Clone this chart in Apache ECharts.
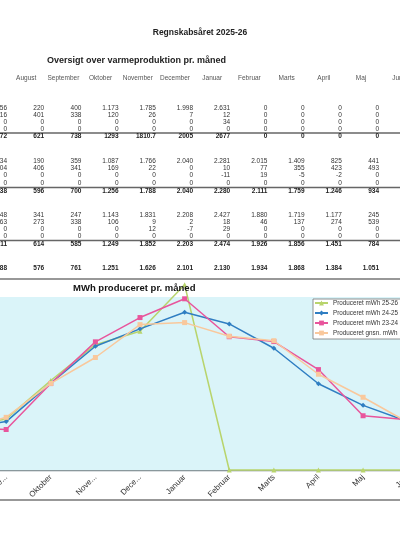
<!DOCTYPE html>
<html>
<head>
<meta charset="utf-8">
<script src="https://cdn.jsdelivr.net/npm/echarts@6/dist/echarts.min.js"></script>
<style>
html,body{margin:0;padding:0;background:#fff;overflow:hidden;width:400px;height:550px;}
#c{position:absolute;left:-61px;top:0;width:491px;height:550px;}
</style>
</head>
<body>
<div id="c"></div>
<script>
// ---- chart data ----
const categories = ['August','September','Oktober','November','December','Januar','Februar','Marts','April','Maj','Juni'];
const tickLabels = ['August','Septe...','Oktober','Nove...','Dece...','Januar','Februar','Marts','April','Maj','Juni'];
const prod2526 = [621, 738, 1293, 1810.7, 2005, 2677, 0, 0, 0, 0, 0];
const prod2425 = [596, 700, 1256, 1788, 2040, 2280, 2111, 1759, 1246, 934, 700];
const prod2324 = [614, 585, 1249, 1852, 2203, 2474, 1926, 1856, 1451, 784, 725];
const prodAvg  = [576, 761, 1251, 1626, 2101, 2130, 1934, 1868, 1384, 1051, 690];
const seriesNames = ['Produceret mWh 25-26','Produceret mWh 24-25','Produceret mWh 23-24','Produceret gnsn. mWh'];

// ---- table data (text as printed) ----
const tableMonths = ['Juli','August','September','Oktober','November','December','Januar','Februar','Marts','April','Maj','Juni'];
const rows2526 = [
  ['56','220','400','1.173','1.785','1.998','2.631','0','0','0','0',''],
  ['16','401','338','120','26','7','12','0','0','0','0',''],
  ['0','0','0','0','0','0','34','0','0','0','0',''],
  ['0','0','0','0','0','0','0','0','0','0','0','']
];
const total2526 = ['72','621','738','1293','1810.7','2005','2677','0','0','0','0',''];
const rows2425 = [
  ['34','190','359','1.087','1.766','2.040','2.281','2.015','1.409','825','441',''],
  ['04','406','341','169','22','0','10','77','355','423','493',''],
  ['0','0','0','0','0','0','-11','19','-5','-2','0',''],
  ['0','0','0','0','0','0','0','0','0','0','0','']
];
const total2425 = ['38','596','700','1.256','1.788','2.040','2.280','2.111','1.759','1.246','934',''];
const rows2324 = [
  ['48','341','247','1.143','1.831','2.208','2.427','1.880','1.719','1.177','245',''],
  ['63','273','338','106','9','2','18','46','137','274','539',''],
  ['0','0','0','0','12','-7','29','0','0','0','0',''],
  ['0','0','0','0','0','0','0','0','0','0','0','']
];
const total2324 = ['11','614','585','1.249','1.852','2.203','2.474','1.926','1.856','1.451','784',''];
const avgRow = ['88','576','761','1.251','1.626','2.101','2.130','1.934','1.868','1.384','1.051',''];

// ---- layout ----
const OX = 61; // container is shifted left by this many px
const FONT = '"Liberation Sans", Arial, sans-serif';
const colRight = i => OX + 7 + 37.2 * i;
const graphics = [];
function txt(s, x, y, size, weight, color, align) {
  graphics.push({type:'text', x:x, y:y, silent:true, z:10,
    style:{text:s, fontSize:size, fontWeight:weight, fontFamily:FONT, fill:color,
      textAlign:align, align:align, textVerticalAlign:'middle', verticalAlign:'middle'}});
}
function hline(y, w, color) {
  graphics.push({type:'line', silent:true, z:5, shape:{x1:OX - 5, y1:y, x2:OX + 405, y2:y},
    style:{stroke:color, lineWidth:w}});
}
txt('Regnskabsåret 2025-26', OX + 200, 33, 8.5, 'bold', '#222', 'center');
txt('Oversigt over varmeproduktion pr. måned', OX + 47, 61, 9, 'bold', '#222', 'left');
tableMonths.forEach((m, i) => txt(m, colRight(i) - 18, 78, 6.5, 'normal', '#555', 'center'));
function block(rows, total, ys, lineY, totY) {
  rows.forEach((r, k) => r.forEach((v, i) => { if (v !== '') txt(v, colRight(i), ys[k], 6.5, 'normal', '#333', 'right'); }));
  hline(lineY, 1.4, '#666');
  total.forEach((v, i) => { if (v !== '') txt(v, colRight(i), totY, 6.5, 'bold', '#222', 'right'); });
}
block(rows2526, total2526, [108, 115, 122, 129], 133, 136.5);
block(rows2425, total2425, [161, 168, 175.5, 183], 187.5, 191);
block(rows2324, total2324, [215, 222, 229, 236], 240.5, 244);
avgRow.forEach((v, i) => { if (v !== '') txt(v, colRight(i), 268, 6.5, 'bold', '#222', 'right'); });

// chart frame + title
graphics.push({type:'rect', silent:true, z:0, shape:{x:OX - 10, y:279, width:420, height:221},
  style:{fill:'#fff', stroke:'#777', lineWidth:1.4}});
txt('MWh produceret pr. måned', OX + 73, 288, 9.5, 'bold', '#111', 'left');

const chart = echarts.init(document.getElementById('c'), null, {renderer:'canvas'});
chart.setOption({
  backgroundColor:'#fff',
  animation:false,
  graphic: graphics,
  grid:{left:0, right:0, top:297, bottom:80, show:true, backgroundColor:'#daf4f9', borderWidth:0, z:1},
  legend:{
    orient:'vertical', left:OX + 313, top:299, data:seriesNames,
    backgroundColor:'#fff', borderColor:'#777', borderWidth:0.8,
    padding:[0, 20, 2, 1], itemGap:2, itemWidth:13, itemHeight:6,
    textStyle:{fontSize:6.3, lineHeight:8, color:'#333', fontFamily:FONT},
    z:20
  },
  xAxis:{
    type:'category', data:categories, boundaryGap:true,
    axisLine:{lineStyle:{color:'#8a989c', width:1}},
    axisTick:{show:false},
    axisLabel:{rotate:45, fontSize:8, color:'#333', margin:6, fontFamily:FONT, interval:0,
      formatter:(v, i) => tickLabels[i]}
  },
  yAxis:{
    type:'value', min:0, max:2500, interval:500,
    axisLabel:{show:false}, axisLine:{show:false}, axisTick:{show:false},
    splitLine:{lineStyle:{color:['#6f7f86','#6f7f86','#6f7f86','#6f7f86','#6f7f86','rgba(0,0,0,0)'], width:1.4}}
  },
  series:[
    {name:seriesNames[0], type:'line', data:prod2526, clip:false, z:3,
      color:'#b8d46c', lineStyle:{width:1.5}, symbol:'triangle', symbolSize:5},
    {name:seriesNames[1], type:'line', data:prod2425, z:4,
      color:'#2f7ec2', lineStyle:{width:1.5}, symbol:'diamond', symbolSize:5},
    {name:seriesNames[2], type:'line', data:prod2324, z:5,
      color:'#e8559c', lineStyle:{width:1.5}, symbol:'rect', symbolSize:5},
    {name:seriesNames[3], type:'line', data:prodAvg, z:6,
      color:'#f9c89c', lineStyle:{width:1.5}, symbol:'rect', symbolSize:5}
  ]
});
</script>
</body>
</html>
